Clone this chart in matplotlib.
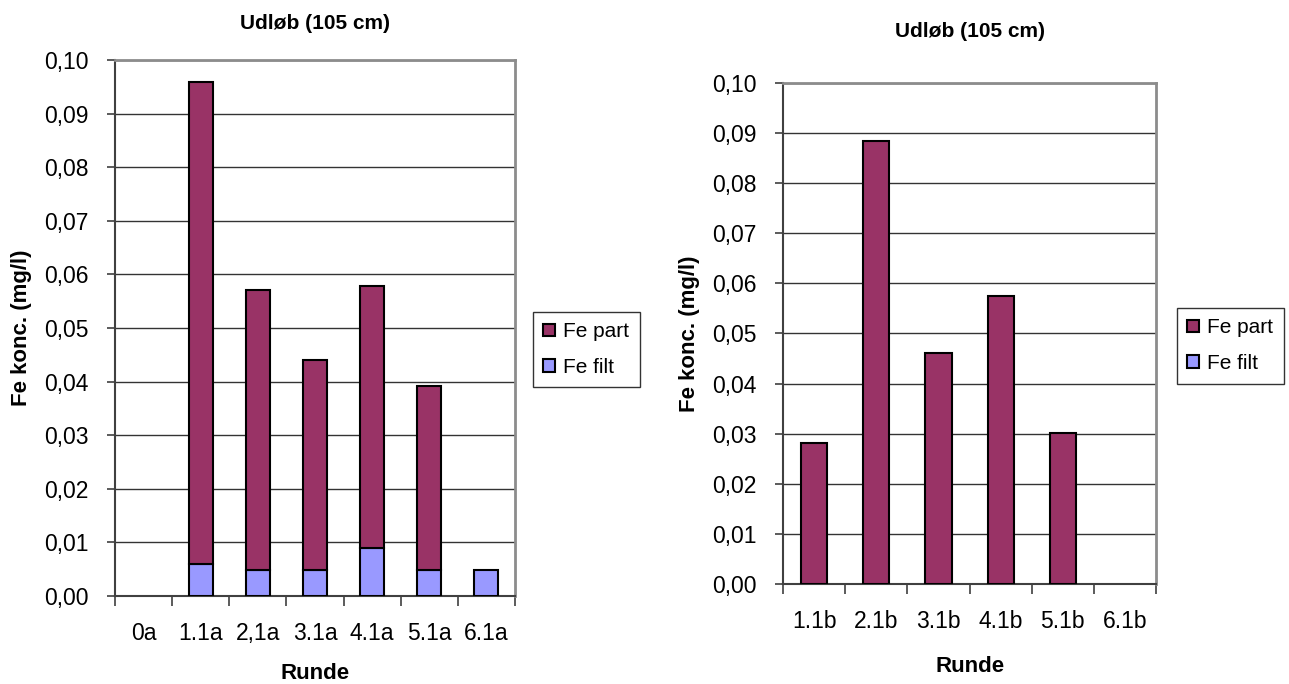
import matplotlib.pyplot as plt
from matplotlib.patches import Patch
from matplotlib.ticker import FuncFormatter, MultipleLocator
import numpy as np

plt.rcParams['font.family'] = ['Liberation Sans', 'DejaVu Sans']

### data

runde_a = ["0a", "1.1a", "2,1a", "3.1a", "4.1a", "5.1a", "6.1a"]
fe_filt_a = [0.0, 0.0059, 0.0048, 0.0048, 0.0089, 0.0048, 0.0048]
fe_part_a = [0.0, 0.0900, 0.0523, 0.0392, 0.0490, 0.0344, 0.0]

runde_b = ["1.1b", "2.1b", "3.1b", "4.1b", "5.1b", "6.1b"]
fe_filt_b = [0.0, 0.0, 0.0, 0.0, 0.0, 0.0]
fe_part_b = [0.0282, 0.0885, 0.0462, 0.0575, 0.0302, 0.0]

titel = "Udløb (105 cm)"
part_col = "#993366"
filt_col = "#9999FF"

fig = plt.figure(figsize=(12.89, 6.84), dpi=100)
ax1 = fig.add_axes([0.0892, 0.1287, 0.3103, 0.7836])
ax2 = fig.add_axes([0.6075, 0.1462, 0.2894, 0.7325])


def draw(ax, labels, filt, part, leg_pos, xpad):
    x = np.arange(len(labels))
    b1 = ax.bar(x, filt, width=0.42, color=filt_col, edgecolor="black", linewidth=1.5, zorder=3)
    b2 = ax.bar(x, part, width=0.42, bottom=filt, color=part_col, edgecolor="black", linewidth=1.5, zorder=3)
    # empty segments are not drawn at all
    for p in list(b1) + list(b2):
        if p.get_height() == 0:
            p.set_visible(False)
    ax.set_xlim(-0.5, len(labels) - 0.5)
    ax.set_ylim(0, 0.1)
    ax.yaxis.set_major_locator(MultipleLocator(0.01))
    ax.yaxis.set_major_formatter(FuncFormatter(lambda v, p: f"{v:.2f}".replace(".", ",")))
    ax.grid(axis="y", color="#333333", linewidth=1.0, zorder=0)
    ax.set_xticks(x)
    ax.set_xticklabels(labels)
    ax.set_xticks(np.arange(len(labels) + 1) - 0.5, minor=True)
    ax.tick_params(axis="x", which="major", length=0, pad=19, labelsize=16.5)
    ax.tick_params(axis="x", which="minor", length=7, width=1.2, color="#404040")
    ax.tick_params(axis="y", length=6, width=1.2, color="#404040", pad=13, labelsize=16.5)
    for s in ["left", "bottom"]:
        ax.spines[s].set_color("#404040")
        ax.spines[s].set_linewidth(1.5)
    for s in ["top", "right"]:
        ax.spines[s].set_color("#8c8c8c")
        ax.spines[s].set_linewidth(2)
    ax.set_xlabel("Runde", fontsize=16, fontweight="bold", labelpad=xpad)
    ax.set_ylabel("Fe konc. (mg/l)", fontsize=16, fontweight="bold", labelpad=9)
    handles = [Patch(facecolor=part_col, edgecolor="black", linewidth=1.5),
               Patch(facecolor=filt_col, edgecolor="black", linewidth=1.5)]
    leg = fig.legend(handles, ["Fe part", "Fe filt"], loc="upper left", bbox_to_anchor=leg_pos,
                     fontsize=15, frameon=True, fancybox=False, borderaxespad=0,
                     handlelength=0.55, handleheight=0.55, handletextpad=0.4,
                     borderpad=0.5, labelspacing=0.8)
    leg.get_frame().set_edgecolor("black")
    leg.get_frame().set_linewidth(1.0)


draw(ax1, runde_a, fe_filt_a, fe_part_a, (0.4135, 0.5439), 13)
draw(ax2, runde_b, fe_filt_b, fe_part_b, (0.9131, 0.5497), 16)

ax1.set_title(titel, fontsize=15, fontweight="bold", pad=22)
ax2.set_title(titel, fontsize=15, fontweight="bold", pad=33)

fig.savefig("out.png", dpi=100)
